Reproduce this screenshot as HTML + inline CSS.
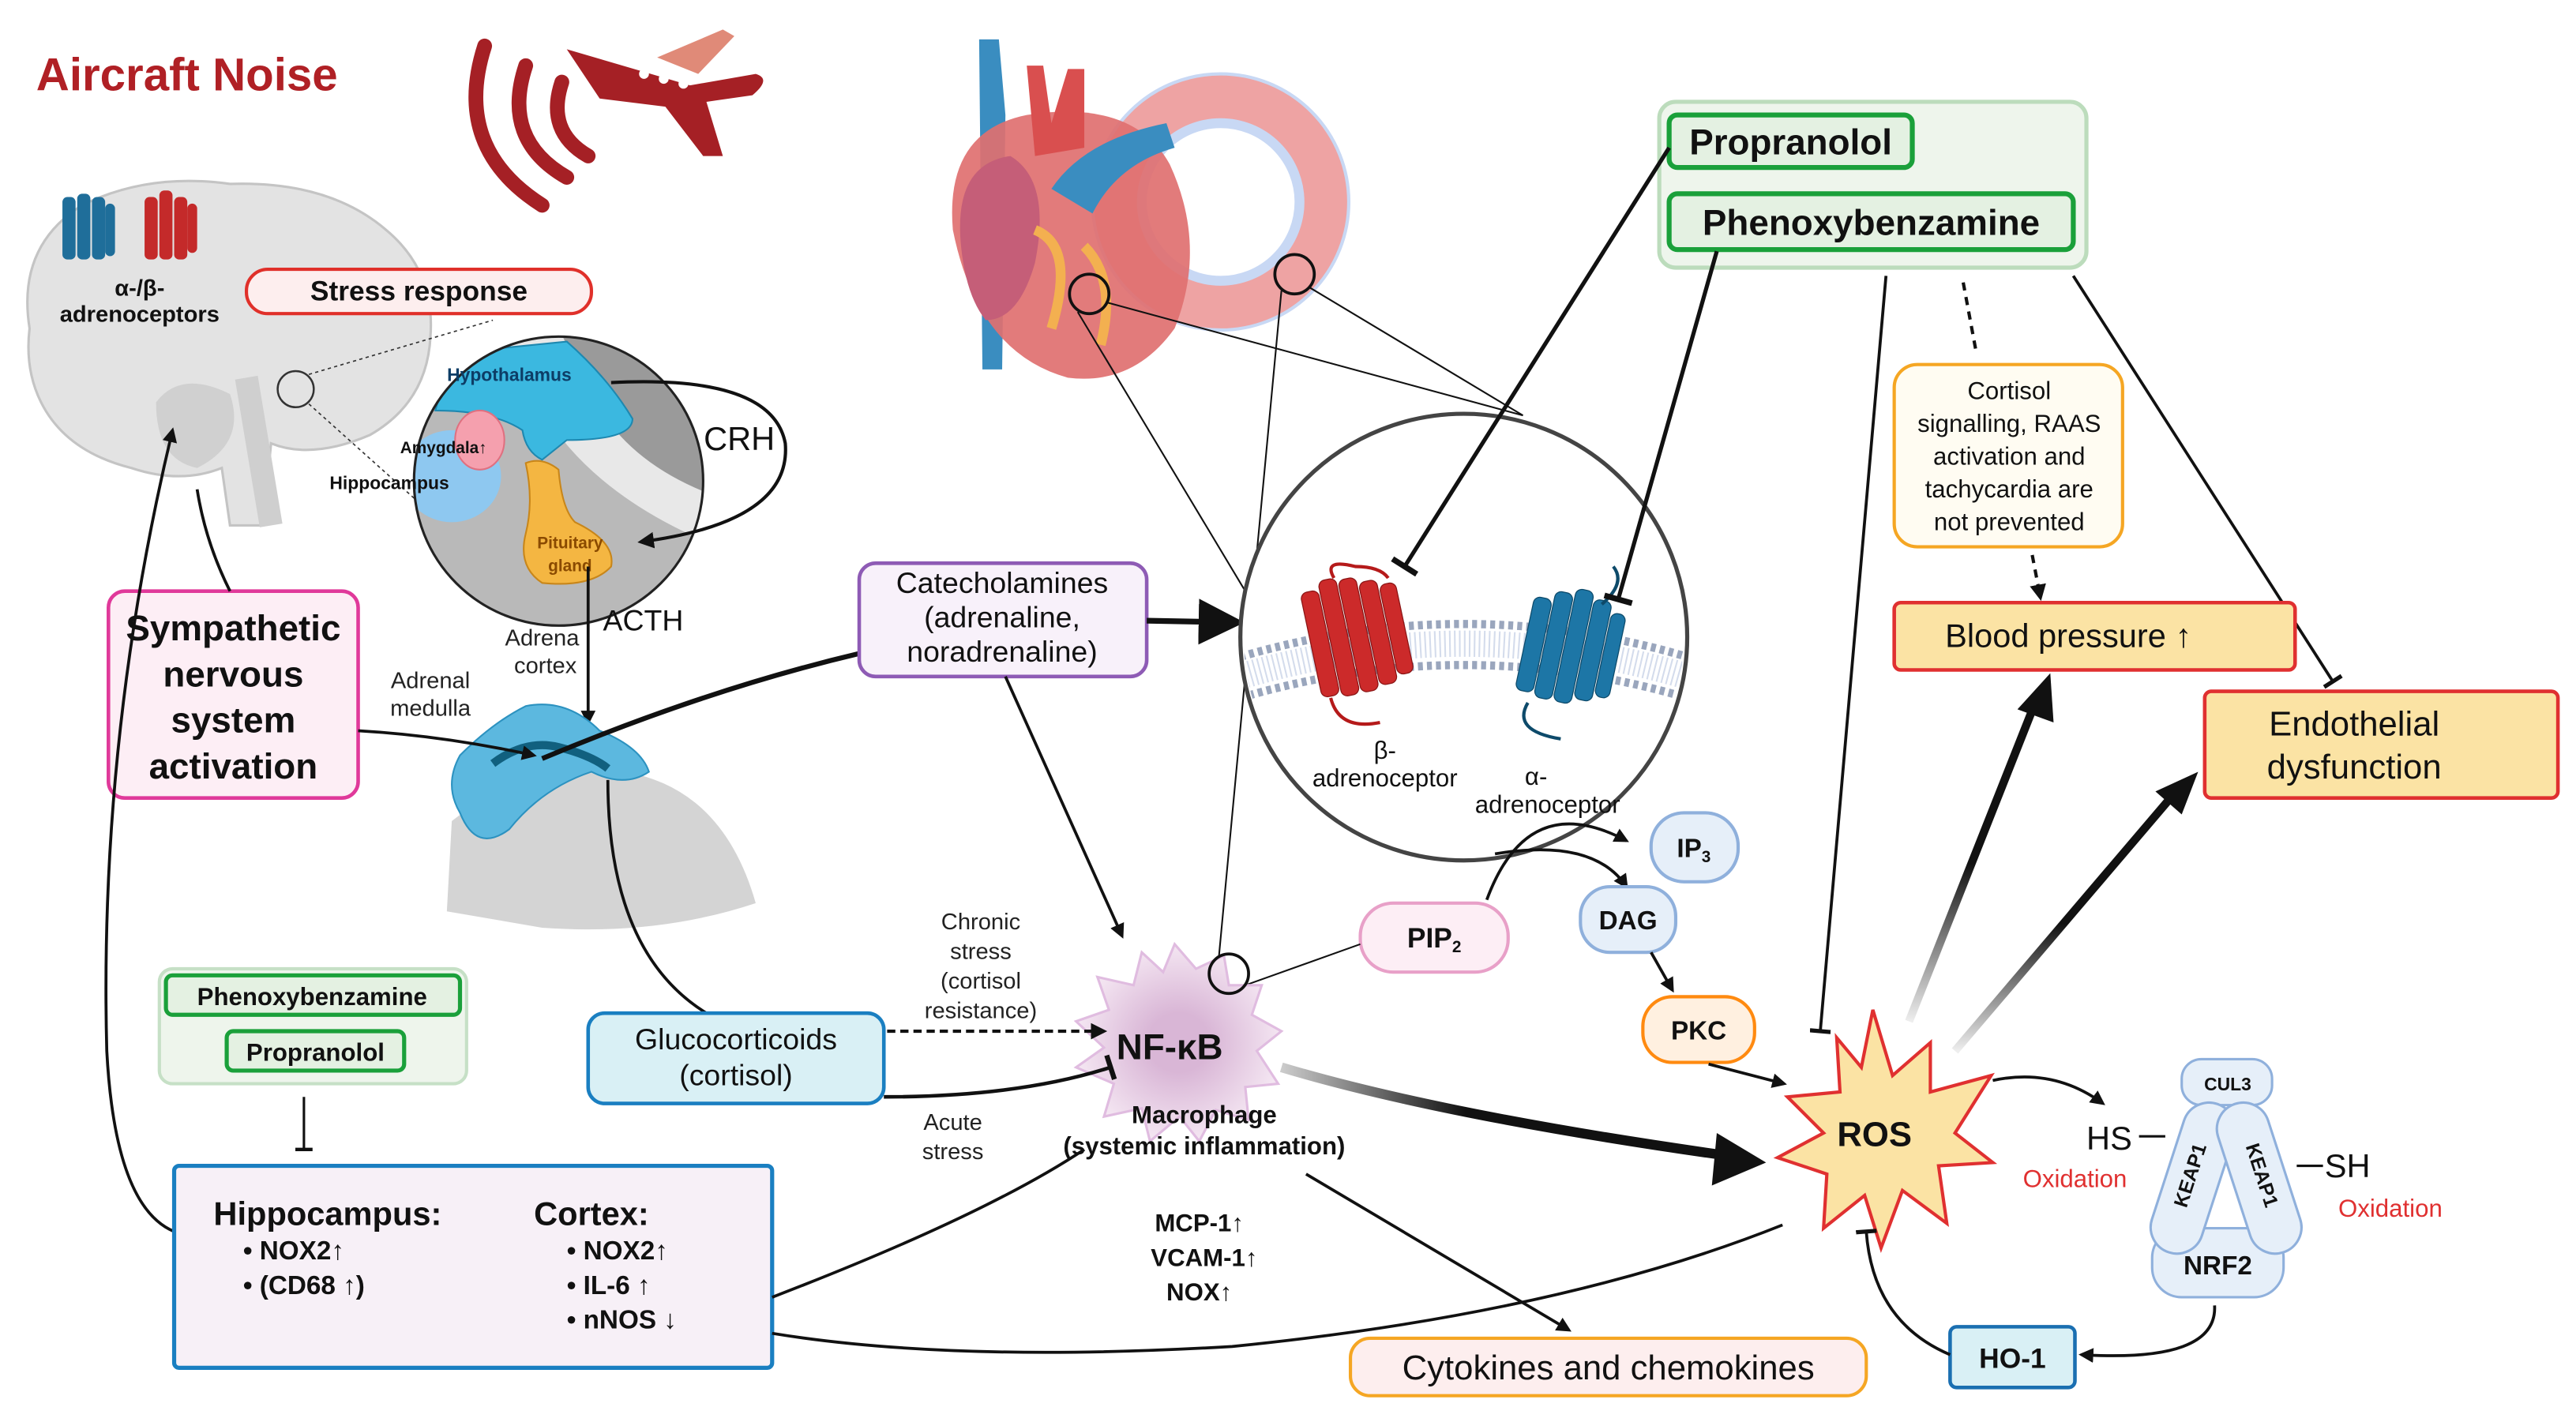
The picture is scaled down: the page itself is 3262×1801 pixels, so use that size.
<!DOCTYPE html>
<html><head><meta charset="utf-8"><style>
html,body{margin:0;padding:0;background:#fff;}
svg{display:block;}
text{font-family:"Liberation Sans",sans-serif;}
.b{font-weight:bold;}
</style></head><body>
<svg width="3262" height="1801" viewBox="0 0 1568 866" preserveAspectRatio="none" xmlns="http://www.w3.org/2000/svg">
<defs>
<marker id="ah" viewBox="0 0 10 10" refX="8" refY="5" markerWidth="5" markerHeight="5" orient="auto"><path d="M0,0L10,5L0,10z" fill="#111"/></marker>
<marker id="ahs" viewBox="0 0 10 10" refX="8" refY="5" markerWidth="8" markerHeight="8" orient="auto"><path d="M0,0L10,5L0,10z" fill="#111"/></marker>
<marker id="tb" viewBox="0 0 10 10" refX="5" refY="5" markerWidth="7" markerHeight="7" orient="auto"><path d="M5,0V10" stroke="#111" stroke-width="2"/></marker>
<linearGradient id="g1" x1="0" y1="0" x2="1" y2="0"><stop offset="0" stop-color="#ccc"/><stop offset="0.4" stop-color="#111"/></linearGradient>
<linearGradient id="g2" x1="0" y1="1" x2="0" y2="0"><stop offset="0" stop-color="#eee"/><stop offset="0.5" stop-color="#111"/></linearGradient>
<radialGradient id="mac"><stop offset="0.3" stop-color="#d9b6d6"/><stop offset="1" stop-color="#f4e6f2"/></radialGradient>
</defs>

<!-- Title -->
<text x="22" y="55" class="b" font-size="28" fill="#b02025">Aircraft Noise</text>
<g fill="none" stroke="#a52025" stroke-width="9" stroke-linecap="round">
<path d="M295,28 Q275,90 330,125"/>
<path d="M320,40 Q305,85 345,108"/>
<path d="M342,50 Q332,80 358,95"/>
</g>
<g fill="#a52025">
<path d="M345,30 L420,52 L460,45 Q470,48 458,58 L430,62 L440,95 L428,95 L405,65 L365,60 Z"/>
<path d="M400,35 L440,18 L447,22 L425,45Z" fill="#e08a78"/>
</g>
<g fill="#fff"><circle cx="392" cy="45" r="3"/><circle cx="404" cy="48" r="3"/><circle cx="416" cy="51" r="3"/></g>

<!-- Brain -->
<path d="M18,200 Q10,150 50,125 Q90,105 140,112 Q200,110 235,140 Q265,165 262,205 Q260,245 225,265 Q190,280 165,270 L160,320 L140,320 L135,285 Q110,295 80,285 Q40,275 25,245 Q15,225 18,200Z" fill="#e3e3e3" stroke="#c4c4c4" stroke-width="1.5"/>
<path d="M95,245 Q110,225 140,240 Q150,270 120,285 Q95,280 95,245Z" fill="#d0d0d0"/>
<path d="M150,230 L165,320" stroke="#cfcfcf" stroke-width="14"/>
<g fill="#1f6e9a"><rect x="38" y="120" width="8" height="38" rx="3"/><rect x="47" y="118" width="8" height="40" rx="3"/><rect x="56" y="120" width="8" height="38" rx="3"/><rect x="64" y="124" width="6" height="32" rx="3"/></g>
<g fill="#c42a2a"><rect x="88" y="120" width="8" height="38" rx="3"/><rect x="97" y="116" width="8" height="42" rx="3"/><rect x="106" y="120" width="8" height="38" rx="3"/><rect x="114" y="124" width="6" height="30" rx="3"/></g>
<text x="85" y="180" class="b" font-size="14" text-anchor="middle" fill="#111">α-/β-</text>
<text x="85" y="196" class="b" font-size="14" text-anchor="middle" fill="#111">adrenoceptors</text>
<circle cx="180" cy="237" r="11" fill="none" stroke="#333" stroke-width="1.2"/>
<path d="M188,228 L300,195 M188,246 L265,315" stroke="#333" stroke-width="0.8" stroke-dasharray="2,2"/>

<rect x="150" y="164" width="210" height="27" rx="13" fill="#fdeeee" stroke="#e0302a" stroke-width="2"/>
<text x="255" y="183" class="b" font-size="17" text-anchor="middle" fill="#111">Stress response</text>

<!-- HPA circle -->
<clipPath id="hc"><circle cx="340" cy="293" r="88"/></clipPath>
<g clip-path="url(#hc)">
<rect x="250" y="200" width="180" height="190" fill="#b9b9b9"/>
<path d="M250,200 L430,200 L430,330 Q360,300 330,250 Q300,230 250,240Z" fill="#e8e8e8"/>
<path d="M340,200 L430,200 L430,300 Q380,280 360,240Z" fill="#9a9a9a"/>
<path d="M275,215 L345,208 Q370,230 385,255 Q385,268 345,268 L330,280 Q320,275 318,262 Q300,250 265,250Z" fill="#3bb8e0" stroke="#1e88b0"/>
<ellipse cx="275" cy="290" rx="30" ry="28" fill="#8ec8f0"/>
<ellipse cx="292" cy="268" rx="15" ry="18" fill="#f5a0ae" stroke="#e07080"/>
<path d="M320,282 Q330,278 340,286 Q342,310 350,318 Q375,330 372,345 Q360,358 330,355 Q315,345 320,325 Q325,305 320,282Z" fill="#f4b642" stroke="#c8861a"/>
</g>
<circle cx="340" cy="293" r="88" fill="none" stroke="#222" stroke-width="1.5"/>
<text x="310" y="232" class="b" font-size="11" text-anchor="middle" fill="#0d3d66">Hypothalamus</text>
<text x="270" y="276" class="b" font-size="10" text-anchor="middle" fill="#111">Amygdala↑</text>
<text x="237" y="298" class="b" font-size="11" text-anchor="middle" fill="#111">Hippocampus</text>
<text x="347" y="334" class="b" font-size="10" text-anchor="middle" fill="#8a4a00">Pituitary</text>
<text x="347" y="348" class="b" font-size="10" text-anchor="middle" fill="#8a4a00">gland</text>
<path d="M372,233 Q470,228 478,270 Q482,318 390,330" fill="none" stroke="#111" stroke-width="2" marker-end="url(#ah)"/>
<text x="450" y="274" font-size="20" text-anchor="middle" fill="#111">CRH</text>
<path d="M358,345 L358,440" stroke="#111" stroke-width="1.8" marker-end="url(#ah)"/>
<text x="367" y="384" font-size="18" fill="#111">ACTH</text>
<text x="330" y="393" font-size="14" text-anchor="middle" fill="#222">Adrena</text>
<text x="332" y="410" font-size="14" text-anchor="middle" fill="#222">cortex</text>
<text x="262" y="419" font-size="14" text-anchor="middle" fill="#222">Adrenal</text>
<text x="262" y="436" font-size="14" text-anchor="middle" fill="#222">medulla</text>

<path d="M272,555 L275,500 Q320,465 380,470 Q440,480 460,550 Q400,570 330,565Z" fill="#d4d4d4"/>
<path d="M280,460 Q300,440 320,430 Q345,425 365,445 Q390,455 395,470 Q380,480 360,470 Q330,480 310,505 Q290,520 280,495 Q270,478 280,460Z" fill="#5cb8df" stroke="#2c92c0"/>
<path d="M300,465 Q320,450 340,455 Q360,460 370,468" stroke="#11607f" stroke-width="5" fill="none"/>

<rect x="66" y="360" width="152" height="126" rx="10" fill="#fdeef5" stroke="#e0399a" stroke-width="2.2"/>
<g class="b" font-size="22" text-anchor="middle" fill="#111">
<text x="142" y="390">Sympathetic</text><text x="142" y="418">nervous</text><text x="142" y="446">system</text><text x="142" y="474">activation</text></g>
<path d="M140,360 Q125,330 120,298" stroke="#111" stroke-width="1.8" fill="none"/>
<path d="M218,445 Q270,448 325,460" stroke="#111" stroke-width="1.8" fill="none" marker-end="url(#ah)"/>
<path d="M106,750 Q70,735 65,640 Q60,450 105,262" stroke="#111" stroke-width="1.8" fill="none" marker-end="url(#ah)"/>

<path d="M330,462 Q430,420 523,398" stroke="#111" stroke-width="3" fill="none"/>
<rect x="523" y="343" width="175" height="69" rx="10" fill="#f8f1fa" stroke="#8e5bb5" stroke-width="2.2"/>
<g font-size="18" text-anchor="middle" fill="#111"><text x="610" y="361">Catecholamines</text><text x="610" y="382">(adrenaline,</text><text x="610" y="403">noradrenaline)</text></g>
<path d="M698,378 L752,379" stroke="#111" stroke-width="3.5" marker-end="url(#ahs)"/>
<path d="M612,412 L683,570" stroke="#111" stroke-width="1.8" marker-end="url(#ah)"/>

<!-- Heart + vessel ring -->
<circle cx="743" cy="123" r="64" fill="none" stroke="#eea3a3" stroke-width="28"/>
<circle cx="743" cy="123" r="48" fill="none" stroke="#c8d8f4" stroke-width="6"/>
<circle cx="743" cy="123" r="78" fill="none" stroke="#c8d8f4" stroke-width="2"/>
<path d="M596,24 L608,24 L612,70 L610,225 L598,225 Z" fill="#3a8dc0"/>
<path d="M580,140 Q575,80 625,70 Q690,60 712,100 Q735,150 715,200 Q690,235 650,230 Q595,215 580,140Z" fill="#e07070" opacity="0.92"/>
<path d="M585,150 Q580,100 615,95 Q640,110 630,160 Q620,195 600,195 Q588,180 585,150Z" fill="#c55e78"/>
<path d="M625,40 L635,40 L640,75 L650,42 L660,42 L660,90 L630,95 Z" fill="#d94f4f"/>
<path d="M640,115 Q660,85 710,75 L715,90 Q680,100 665,130 Z" fill="#3a8dc0"/>
<path d="M630,140 Q655,150 640,200 M660,150 Q680,170 670,210" stroke="#f3b050" stroke-width="6" fill="none"/>
<circle cx="663" cy="179" r="12" fill="none" stroke="#111" stroke-width="1.8"/>
<circle cx="788" cy="167" r="12" fill="none" stroke="#111" stroke-width="1.8"/>
<g stroke="#111" stroke-width="1">
<path d="M673,184 L927,253"/><path d="M797,175 L927,253"/>
<path d="M656,190 L758,360"/><path d="M780,177 L742,582"/>
</g>

<!-- big circle -->
<circle cx="891" cy="388" r="136" fill="#fff" stroke="#444" stroke-width="2.5"/>
<clipPath id="bc"><circle cx="891" cy="388" r="134"/></clipPath>
<g clip-path="url(#bc)" fill="none" stroke-dasharray="3,2.5">
<path d="M755,400 Q891,360 1027,400" stroke="#9aa6bd" stroke-width="5"/>
<path d="M755,425 Q891,385 1027,425" stroke="#9aa6bd" stroke-width="5"/>
<path d="M755,412 Q891,372 1027,412" stroke="#d4dcec" stroke-width="16" stroke-dasharray="1,2"/>
</g>
<g fill="#cc2a2a" stroke="#8a1515" stroke-width="0.6" transform="rotate(-12 825 385)">
<rect x="797" y="355" width="11" height="65" rx="4"/><rect x="809" y="350" width="11" height="72" rx="4"/><rect x="821" y="352" width="11" height="70" rx="4"/><rect x="833" y="356" width="11" height="64" rx="4"/><rect x="845" y="360" width="10" height="56" rx="4"/>
</g>
<path d="M812,352 Q805,340 825,345 Q840,345 845,352" stroke="#b51a1a" stroke-width="2" fill="none"/>
<path d="M810,425 Q815,445 840,440" stroke="#b51a1a" stroke-width="2" fill="none"/>
<g fill="#1d76a6" stroke="#0d4a6a" stroke-width="0.6" transform="rotate(12 955 395)">
<rect x="928" y="368" width="11" height="58" rx="4"/><rect x="940" y="362" width="11" height="66" rx="4"/><rect x="952" y="358" width="11" height="70" rx="4"/><rect x="964" y="362" width="11" height="62" rx="4"/><rect x="976" y="368" width="9" height="52" rx="4"/>
</g>
<path d="M975,368 Q990,355 982,345" stroke="#0d4a6a" stroke-width="2" fill="none"/>
<path d="M930,428 Q920,445 950,450" stroke="#0d4a6a" stroke-width="2" fill="none"/>
<g font-size="15" text-anchor="middle" fill="#111"><text x="843" y="462">β-</text><text x="843" y="479">adrenoceptor</text><text x="935" y="478">α-</text><text x="942" y="495">adrenoceptor</text></g>

<!-- drug box top -->
<rect x="1010" y="62" width="260" height="101" rx="10" fill="#eef5ec" stroke="#bcdcbc" stroke-width="2.5"/>
<rect x="1016" y="70" width="148" height="32" rx="5" fill="#e4f1e2" stroke="#1aa03a" stroke-width="3"/>
<text x="1090" y="94" class="b" font-size="22" text-anchor="middle" fill="#111">Propranolol</text>
<rect x="1016" y="118" width="246" height="34" rx="5" fill="#e4f1e2" stroke="#1aa03a" stroke-width="3"/>
<text x="1139" y="143" class="b" font-size="22" text-anchor="middle" fill="#111">Phenoxybenzamine</text>
<path d="M1016,90 L855,345" stroke="#111" stroke-width="2.5" marker-end="url(#tb)"/>
<path d="M1045,153 L985,365" stroke="#111" stroke-width="2.5" marker-end="url(#tb)"/>
<path d="M1148,168 L1108,628" stroke="#111" stroke-width="1.8" marker-end="url(#tb)"/>
<path d="M1195,172 L1203,215" stroke="#111" stroke-width="2" stroke-dasharray="5,4"/>
<path d="M1262,168 L1420,415" stroke="#111" stroke-width="1.8" marker-end="url(#tb)"/>

<rect x="1153" y="222" width="139" height="111" rx="14" fill="#fffcf2" stroke="#f5a623" stroke-width="2"/>
<g font-size="15" text-anchor="middle" fill="#111"><text x="1223" y="243">Cortisol</text><text x="1223" y="263">signalling,  RAAS</text><text x="1223" y="283">activation and</text><text x="1223" y="303">tachycardia are</text><text x="1223" y="323">not prevented</text></g>
<path d="M1237,338 L1242,364" stroke="#111" stroke-width="2" stroke-dasharray="5,4" marker-end="url(#ah)"/>

<rect x="1153" y="367" width="244" height="41" rx="4" fill="#fbe3a4" stroke="#e03030" stroke-width="2.2"/>
<text x="1259" y="394" font-size="20" text-anchor="middle" fill="#111">Blood pressure ↑</text>
<rect x="1342" y="421" width="215" height="65" rx="4" fill="#fbe3a4" stroke="#e03030" stroke-width="2.2"/>
<text x="1433" y="448" font-size="21" text-anchor="middle" fill="#111">Endothelial</text>
<text x="1433" y="474" font-size="21" text-anchor="middle" fill="#111">dysfunction</text>

<!-- signaling -->
<path d="M905,548 Q930,480 990,512" stroke="#111" stroke-width="1.8" fill="none" marker-end="url(#ah)"/>
<path d="M910,520 Q970,510 990,540" stroke="#111" stroke-width="1.8" fill="none" marker-end="url(#ah)"/>
<rect x="1005" y="495" width="53" height="42" rx="20" fill="#e6eff9" stroke="#8fb0dc" stroke-width="2"/>
<text x="1031" y="522" class="b" font-size="16" text-anchor="middle" fill="#111">IP<tspan font-size="10" dy="3">3</tspan></text>
<rect x="962" y="540" width="58" height="40" rx="18" fill="#e6eff9" stroke="#8fb0dc" stroke-width="2"/>
<text x="991" y="566" class="b" font-size="16" text-anchor="middle" fill="#111">DAG</text>
<path d="M1005,580 L1018,603" stroke="#111" stroke-width="1.8" marker-end="url(#ah)"/>
<rect x="1000" y="607" width="68" height="40" rx="18" fill="#fff0e0" stroke="#ff8a10" stroke-width="2"/>
<text x="1034" y="633" class="b" font-size="16" text-anchor="middle" fill="#111">PKC</text>
<path d="M1040,648 L1086,660" stroke="#111" stroke-width="1.8" marker-end="url(#ah)"/>
<rect x="828" y="550" width="90" height="42" rx="20" fill="#fdeef5" stroke="#e8a0c8" stroke-width="2"/>
<text x="873" y="577" class="b" font-size="17" text-anchor="middle" fill="#111">PIP<tspan font-size="10" dy="3">2</tspan></text>
<path d="M828,575 L758,600" stroke="#111" stroke-width="1"/>

<!-- macrophage -->
<path d="M715,575 L728,590 L745,582 L748,600 L768,600 L762,618 L780,628 L765,640 L778,660 L758,662 L760,682 L740,676 L730,695 L718,680 L700,695 L695,675 L672,680 L678,660 L655,650 L672,638 L655,622 L675,615 L668,595 L690,600 L695,580 L708,592 Z" fill="url(#mac)" stroke="#e0bce0" stroke-width="1.5"/>
<circle cx="748" cy="593" r="12" fill="none" stroke="#111" stroke-width="1.8"/>
<text x="712" y="645" class="b" font-size="22" text-anchor="middle" fill="#111">NF-κB</text>
<text x="733" y="684" class="b" font-size="15" text-anchor="middle" fill="#111">Macrophage</text>
<text x="733" y="703" class="b" font-size="15" text-anchor="middle" fill="#111">(systemic inflammation)</text>
<g class="b" font-size="15" text-anchor="middle" fill="#111"><text x="730" y="750">MCP-1↑</text><text x="733" y="771">VCAM-1↑</text><text x="730" y="792">NOX↑</text></g>

<path d="M370,475 Q370,580 430,617" stroke="#111" stroke-width="1.8" fill="none"/>
<rect x="358" y="617" width="180" height="55" rx="10" fill="#d9f0f5" stroke="#1a7fc1" stroke-width="2.2"/>
<text x="448" y="639" font-size="18" text-anchor="middle" fill="#111">Glucocorticoids</text>
<text x="448" y="661" font-size="18" text-anchor="middle" fill="#111">(cortisol)</text>
<path d="M540,628 L672,628" stroke="#111" stroke-width="2" stroke-dasharray="5,3" marker-end="url(#ah)"/>
<g font-size="14" text-anchor="middle" fill="#222"><text x="597" y="566">Chronic</text><text x="597" y="584">stress</text><text x="597" y="602">(cortisol</text><text x="597" y="620">resistance)</text>
<text x="580" y="688">Acute</text><text x="580" y="706">stress</text></g>
<path d="M538,668 Q620,668 676,650" stroke="#111" stroke-width="2.2" fill="none" marker-end="url(#tb)"/>

<rect x="97" y="590" width="187" height="70" rx="8" fill="#eef5ec" stroke="#c6e0c6" stroke-width="2"/>
<rect x="101" y="594" width="179" height="24" rx="4" fill="#e4f1e2" stroke="#1aa03a" stroke-width="2.5"/>
<text x="190" y="612" class="b" font-size="15" text-anchor="middle" fill="#111">Phenoxybenzamine</text>
<rect x="138" y="628" width="108" height="24" rx="4" fill="#e4f1e2" stroke="#1aa03a" stroke-width="2.5"/>
<text x="192" y="646" class="b" font-size="15" text-anchor="middle" fill="#111">Propranolol</text>
<path d="M185,668 L185,700" stroke="#111" stroke-width="1.5" marker-end="url(#tb)"/>

<rect x="106" y="710" width="364" height="123" rx="3" fill="#f7f0f7" stroke="#1a7fc1" stroke-width="2.5"/>
<g class="b" fill="#111">
<text x="130" y="746" font-size="20">Hippocampus:</text>
<text x="325" y="746" font-size="20">Cortex:</text>
<g font-size="16"><text x="148" y="767">•  NOX2↑</text><text x="148" y="788">•  (CD68 ↑)</text>
<text x="345" y="767">•  NOX2↑</text><text x="345" y="788">•  IL-6 ↑</text><text x="345" y="809">•  nNOS ↓</text></g></g>
<path d="M470,790 Q600,740 660,700" stroke="#111" stroke-width="1.8" fill="none"/>
<path d="M470,812 Q580,830 750,820 Q950,800 1085,746" stroke="#111" stroke-width="1.8" fill="none"/>

<path d="M780,650 Q880,680 1060,705" stroke="url(#g1)" stroke-width="6" fill="none"/>
<path d="M1045,690 L1075,708 L1042,722 Z" fill="#111"/>
<path d="M795,715 L955,810" stroke="#111" stroke-width="1.8" marker-end="url(#ah)"/>
<rect x="822" y="815" width="314" height="35" rx="12" fill="#fdeeee" stroke="#f5a623" stroke-width="2"/>
<text x="979" y="840" font-size="21" text-anchor="middle" fill="#111">Cytokines and chemokines</text>

<!-- ROS -->
<path d="M1140,615 L1152,655 L1175,635 L1175,665 L1212,655 L1190,690 L1213,708 L1180,710 L1185,745 L1158,725 L1145,760 L1135,728 L1110,748 L1112,715 L1082,705 L1110,690 L1088,668 L1120,665 L1118,632 L1133,650 Z" fill="#fbe3a4" stroke="#e03030" stroke-width="2"/>
<text x="1141" y="698" class="b" font-size="21" text-anchor="middle" fill="#111">ROS</text>
<path d="M1162,622 L1238,430" stroke="url(#g2)" stroke-width="5"/>
<path d="M1228,432 L1248,410 L1250,440 Z" fill="#111"/>
<path d="M1190,640 L1322,485" stroke="url(#g2)" stroke-width="5"/>
<path d="M1312,482 L1338,470 L1328,496 Z" fill="#111"/>
<path d="M1213,658 Q1250,650 1280,672" stroke="#111" stroke-width="1.8" fill="none" marker-end="url(#ah)"/>

<rect x="1328" y="645" width="55" height="28" rx="12" fill="#e6eff9" stroke="#8fb0dc" stroke-width="1.5"/>
<text x="1356" y="664" class="b" font-size="11" text-anchor="middle" fill="#111">CUL3</text>
<rect x="1310" y="748" width="80" height="42" rx="18" fill="#e6eff9" stroke="#8fb0dc" stroke-width="1.5"/>
<text x="1350" y="776" class="b" font-size="16" text-anchor="middle" fill="#111">NRF2</text>
<rect x="1319" y="670" width="32" height="95" rx="16" fill="#e6eff9" stroke="#8fb0dc" stroke-width="1.5" transform="rotate(18 1335 717)"/>
<rect x="1359" y="670" width="32" height="95" rx="16" fill="#e6eff9" stroke="#8fb0dc" stroke-width="1.5" transform="rotate(-18 1375 717)"/>
<text x="0" y="0" class="b" font-size="12" text-anchor="middle" fill="#111" transform="translate(1337,717) rotate(-72)">KEAP1</text>
<text x="0" y="0" class="b" font-size="12" text-anchor="middle" fill="#111" transform="translate(1373,717) rotate(72)">KEAP1</text>
<text x="1270" y="700" font-size="20" fill="#111">HS</text>
<path d="M1302,692 L1318,692" stroke="#111" stroke-width="1.5"/>
<path d="M1398,710 L1414,710" stroke="#111" stroke-width="1.5"/>
<text x="1415" y="717" font-size="20" fill="#111">SH</text>
<text x="1263" y="723" font-size="15" text-anchor="middle" fill="#e03030">Oxidation</text>
<text x="1455" y="741" font-size="15" text-anchor="middle" fill="#e03030">Oxidation</text>

<path d="M1348,795 Q1350,830 1267,825" stroke="#111" stroke-width="1.8" fill="none" marker-end="url(#ah)"/>
<rect x="1187" y="808" width="76" height="37" rx="4" fill="#d9f0f5" stroke="#1a6fb1" stroke-width="2.2"/>
<text x="1225" y="833" class="b" font-size="17" text-anchor="middle" fill="#111">HO-1</text>
<path d="M1187,825 Q1140,805 1136,750" stroke="#111" stroke-width="1.8" fill="none" marker-end="url(#tb)"/>
</svg>
</body></html>
